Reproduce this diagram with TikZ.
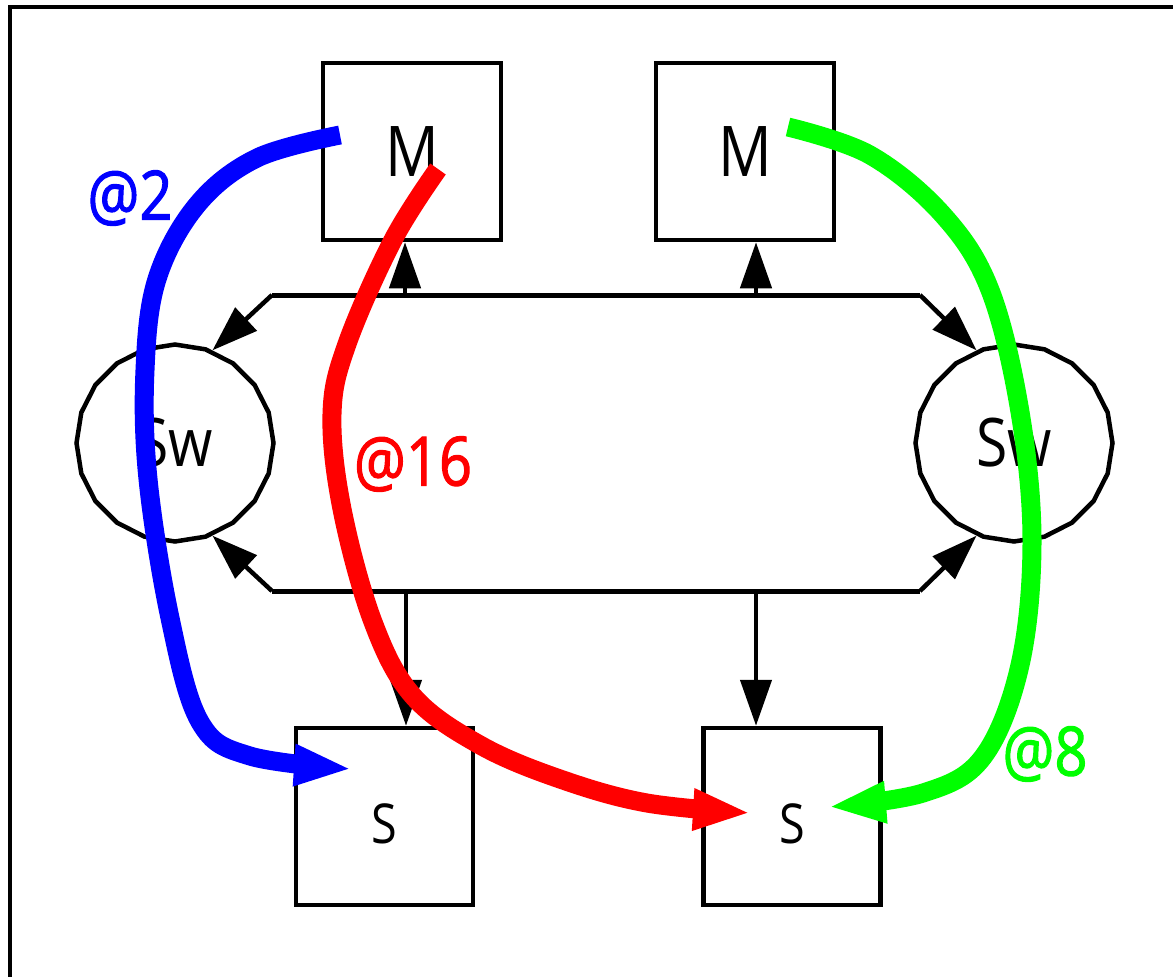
\documentclass[tikz,border=0pt]{standalone}
\usepackage{fontspec}
\setmainfont{Open Sans}
\newfontfamily\narrowfont[FakeStretch=0.85]{Open Sans}
\newfontfamily\lblfont[FakeStretch=0.85,FakeBold=1.5]{Open Sans}
\usetikzlibrary{arrows.meta,shapes.geometric}
\begin{document}
\begin{tikzpicture}[x=1pt,y=-1pt,
  mbox/.style={draw,line width=4.5pt,minimum width=178pt,minimum height=177pt,inner sep=0pt,
    font=\narrowfont\fontsize{70}{80}\selectfont},
  sbox/.style={draw,line width=4.5pt,minimum width=177pt,minimum height=177pt,inner sep=0pt,
    text height=53pt,text depth=0pt,font=\narrowfont\fontsize{55}{60}\selectfont},
  swnode/.style={draw,line width=4.5pt,regular polygon,regular polygon sides=20,shape border rotate=9,
    minimum size=197pt,inner sep=0pt,font=\narrowfont\fontsize{67}{75}\selectfont},
  bus/.style={line width=5pt},
  barrow/.style={line width=4.5pt,-{Triangle[length=46pt,width=31pt]}},
  flow/.style={line width=19pt,line join=round,-{Triangle[length=58pt,width=38pt]}},
  lbl/.style={inner sep=0pt,font=\lblfont\fontsize{68}{75}\selectfont}
]
\useasboundingbox (0,0) rectangle (1173,977);
\draw[line width=4.5pt] (1173,7) -- (10,7) -- (10,977);

% nodes
\node[mbox] (m1) at (412,151.5) {M};
\node[mbox] (m2) at (745,151.5) {M};
\node[sbox] (s1) at (384.5,816.5) {S};
\node[sbox] (s2) at (792,816.5) {S};
\node[swnode] (sw1) at (175,443) {Sw};
\node[swnode] (sw2) at (1014,443) {Sw};

% bus coordinates
\coordinate (tl) at (272,295);
\coordinate (tr) at (920,295);
\coordinate (bl) at (272,591);
\coordinate (br) at (920,591);
\coordinate (tu1) at (405,295);
\coordinate (tu2) at (756,295);
\coordinate (bd1) at (406,591);
\coordinate (bd2) at (756,591);

\draw[bus] (tl) -- (tr);
\draw[bus] (bl) -- (br);
\draw[barrow] (tl) -- (sw1.68);
\draw[barrow] (tr) -- (sw2.112);
\draw[barrow] (bl) -- (sw1.-68);
\draw[barrow] (br) -- (sw2.-112);
\draw[barrow] (tu1) -- (tu1 |- m1.south);
\draw[barrow] (tu2) -- (tu2 |- m2.south);
\draw[barrow] (bd1) -- (bd1 |- s1.north);
\draw[barrow] (bd2) -- (bd2 |- s2.north);

% flow endpoints
\coordinate (bstart) at (340,135);
\coordinate (bend) at (352,769);
\coordinate (rstart) at (438,169);
\coordinate (rend) at (751,813);
\coordinate (gstart) at (788,127);
\coordinate (gend) at (828,807);

\draw[flow,blue] plot[smooth,tension=0.6] coordinates {(bstart) (257,158) (197,205) (157,279) (145,370) (148,479) (170,618) (200,722) (250,756) (bend)};
\draw[flow,red] plot[smooth,tension=0.6] coordinates {(rstart) (393,240) (347,344) (332,414) (342,509) (373,622) (413,696) (480,745) (560,779) (647,803) (rend)};
\draw[flow,green] plot[smooth,tension=0.6] coordinates {(gstart) (870,155) (943,215) (990,290) (1020,412) (1032,541) (1020,665) (983,757) (923,793) (gend)};

\node[lbl,text=blue] (l2) at (130,198) {@2};
\node[lbl,text=red] (l16) at (413,464) {@16};
\node[lbl,text=green] (l8) at (1045,754) {@8};
\end{tikzpicture}
\end{document}
